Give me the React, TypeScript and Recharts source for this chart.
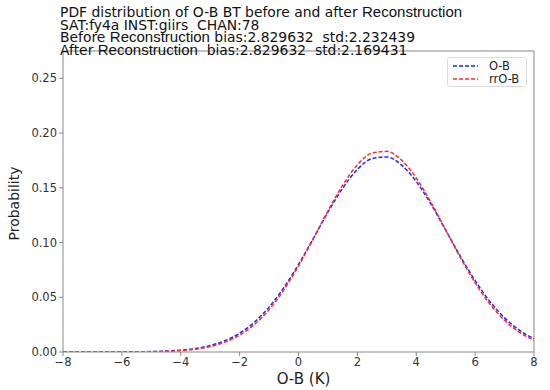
import React from 'react';
import { LineChart, Line, XAxis, YAxis, ReferenceLine } from 'recharts';

const xValues = [-8, -7.5, -7, -6.5, -6, -5.5, -5, -4.5, -4, -3.5, -3, -2.5, -2, -1.5, -1, -0.5, 0, 0.5, 1, 1.5, 2, 2.5, 3, 3.5, 4, 4.5, 5, 5.5, 6, 6.5, 7, 7.5, 8];
const obValues = [0, 0, 0, 0.00003, 0.00007, 0.00017, 0.00038, 0.00082, 0.00166, 0.0032, 0.0059, 0.0103, 0.0172, 0.0272, 0.041, 0.0587, 0.08, 0.1036, 0.1277, 0.1496, 0.1668, 0.1767, 0.1782, 0.1708, 0.1558, 0.1351, 0.1114, 0.0874, 0.0652, 0.0462, 0.0312, 0.02, 0.0122];
const rrobValues = [0, 0, 0.00001, 0.00002, 0.00005, 0.00012, 0.00027, 0.00061, 0.0013, 0.0026, 0.005, 0.009, 0.0155, 0.0251, 0.0387, 0.0566, 0.0785, 0.1033, 0.1288, 0.1524, 0.1709, 0.1818, 0.1833, 0.1753, 0.159, 0.1367, 0.1115, 0.0862, 0.0632, 0.0439, 0.029, 0.0181, 0.0107];
const xTicks = [-8, -6, -4, -2, 0, 2, 4, 6, 8];
const yTicks = [0, 0.05, 0.1, 0.15, 0.2, 0.25];
const xDomain = [-8, 8];
const yDomain = [0, 0.275];
const seriesNames = ['O-B', 'rrO-B'];
const titleLines = [
  ['PDF distribution of O-B BT before and after ', 'Reconstruction', ''],
  ['SAT:fy4a INST:giirs  CHAN:78', '', ''],
  ['Before ', 'Reconstruction', ' bias:2.829632  std:2.232439'],
  ['After ', 'Reconstruction', '  bias:2.829632  std:2.169431'],
];

const data = xValues.map((x, i) => ({ x, ob: obValues[i], rrob: rrobValues[i] }));

const FONT = '"DejaVu Sans", sans-serif';
const TICK = { fill: '#333', fontSize: 11.5, fontFamily: FONT };
const BLUE = '#2222ff';
const RED = '#ff2a2a';
const SPINE = '#888';

const LegendBox = () => (
  <div style={{ position: 'absolute', left: 447, top: 57, width: 80, height: 30, boxSizing: 'border-box', border: '1px solid #ddd', borderRadius: 3, background: '#fff', padding: '1px 4px', fontFamily: FONT, fontSize: 11.5, color: '#222' }}>
    {[[BLUE, seriesNames[0]], [RED, seriesNames[1]]].map(([c, n]) => (
      <div key={n} style={{ display: 'flex', alignItems: 'center', height: 13.5, whiteSpace: 'nowrap' }}>
        <svg width={27} height={8}><line x1={1} y1={4} x2={26} y2={4} stroke={c} strokeWidth={1.5} strokeDasharray="4 2" /></svg>
        <span style={{ marginLeft: 10 }}>{n}</span>
      </div>
    ))}
  </div>
);

export default function App() {
  return (
    <div style={{ position: 'absolute', left: 0, top: 0, width: 550, height: 390, background: '#fff' }}>
      <LineChart width={550} height={390} data={data} margin={{ top: 51, right: 16, bottom: 0, left: 0 }}>
        <XAxis dataKey="x" type="number" domain={xDomain} ticks={xTicks} tick={TICK} tickFormatter={(v: number) => (v < 0 ? '\u2212' + Math.abs(v) : String(v))} stroke={SPINE} tickSize={4} height={38} interval={0} label={{ value: 'O-B  (K)', position: 'insideBottom', offset: 0, dy: -6, dx: 5, style: { fontFamily: FONT, fontSize: 15, fill: '#222' } }} />
        <YAxis type="number" domain={yDomain} ticks={yTicks} tick={TICK} tickFormatter={(v: number) => v.toFixed(2)} stroke={SPINE} tickSize={4} width={63} allowDataOverflow label={{ value: 'Probability', angle: -90, position: 'insideLeft', offset: 14, dy: 2, style: { fontFamily: FONT, fontSize: 14, fill: '#222', textAnchor: 'middle' } }} />
        <ReferenceLine y={yDomain[1]} stroke={SPINE} strokeWidth={1} />
        <ReferenceLine x={xDomain[1]} stroke={SPINE} strokeWidth={1} />
        <Line type="monotone" dataKey="ob" name={seriesNames[0]} stroke={BLUE} strokeWidth={1.5} strokeDasharray="4 2" dot={false} isAnimationActive={false} />
        <Line type="monotone" dataKey="rrob" name={seriesNames[1]} stroke={RED} strokeWidth={1.5} strokeDasharray="4 2" dot={false} isAnimationActive={false} />
      </LineChart>
      <LegendBox />
      <div style={{ position: 'absolute', left: 60, top: 6, fontFamily: FONT, fontSize: 13.9, color: '#111', lineHeight: '11.7px', whiteSpace: 'pre' }}>
        {titleLines.map((l, i) => (
          <div key={i}>
            {l[0]}
            <span style={{ fontFamily: '"Liberation Sans", sans-serif', fontSize: 15 }}>{l[1]}</span>
            {l[2]}
          </div>
        ))}
      </div>
    </div>
  );
}
